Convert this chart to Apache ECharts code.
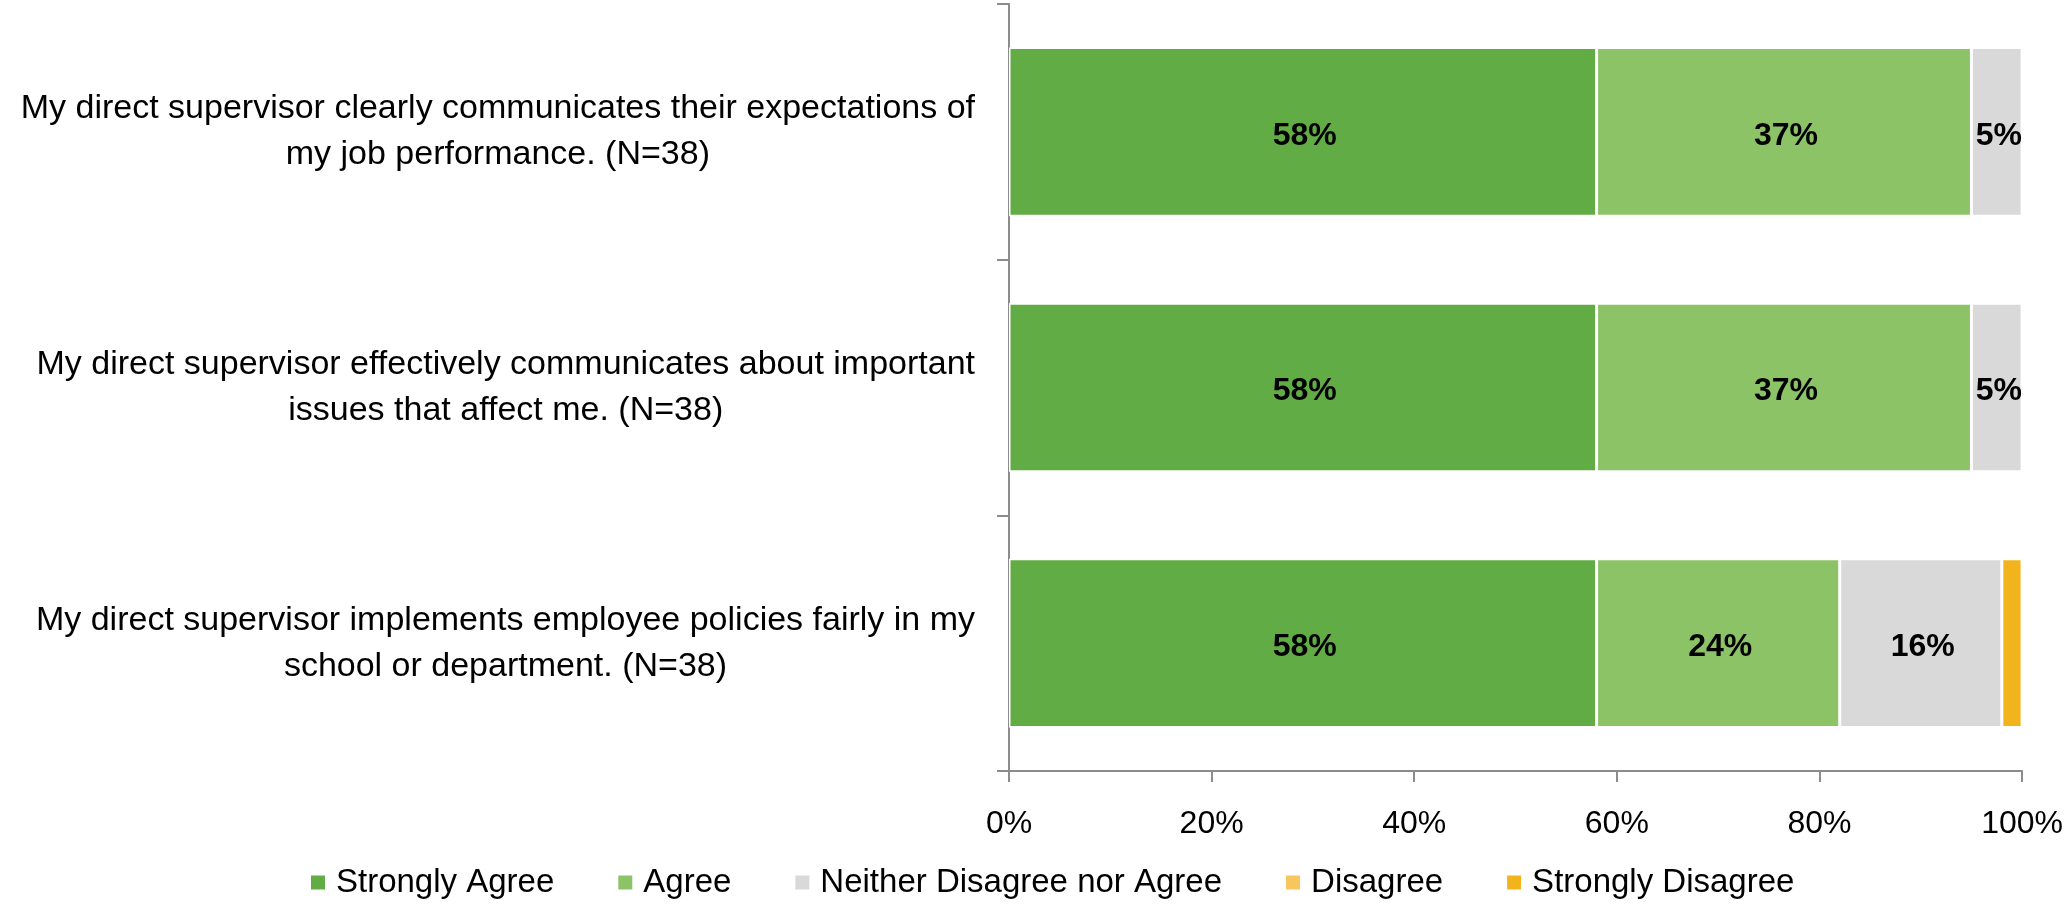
<!DOCTYPE html>
<html><head><meta charset="utf-8">
<script src="https://cdn.jsdelivr.net/npm/echarts@6/dist/echarts.min.js"></script>
<style>html,body{margin:0;padding:0;background:#fff}#c{width:2066px;height:906px}</style>
</head><body><div id="c"></div>
<script>
const categories = [
  "My direct supervisor clearly communicates their expectations of\nmy job performance. (N=38)",
  "My direct supervisor effectively communicates about important\nissues that affect me. (N=38)",
  "My direct supervisor implements employee policies fairly in my\nschool or department. (N=38)"
];
const seriesNames = ["Strongly Agree","Agree","Neither Disagree nor Agree","Disagree","Strongly Disagree"];
const stronglyAgree = [58,58,58];
const agree = [37,37,24];
const neither = [5,5,16];
const disagree = [0,0,0];
const stronglyDisagree = [0,0,2];
const xTicks = [0,20,40,60,80,100];
const colors = ["#62AC45","#8CC367","#D9D9D9","#F7C65F","#F2B41C"];
const FONT = "Liberation Sans";
const values = [stronglyAgree, agree, neither, disagree, stronglyDisagree];
const showLabel = [true,true,true,false,false];

const chart = echarts.init(document.getElementById('c'));
chart.setOption({
  animation:false,
  textStyle:{fontFamily:FONT},
  grid:{left:1009,right:42,top:4,bottom:135,containLabel:false},
  legend:{
    bottom:2, left:304, itemWidth:16, itemHeight:16, itemGap:62,
    icon:'rect',
    textStyle:{fontFamily:FONT,fontSize:33,color:'#000',padding:[0,0,0,5]},
    data:seriesNames
  },
  xAxis:{
    type:'value', min:xTicks[0], max:xTicks[xTicks.length-1], interval:xTicks[1]-xTicks[0],
    axisLine:{show:true,lineStyle:{color:'#8C8C8C',width:2}},
    axisTick:{show:true,length:11,lineStyle:{color:'#8C8C8C',width:2}},
    splitLine:{show:false},
    axisLabel:{fontFamily:FONT,fontSize:32,color:'#000',margin:37,formatter:v=>v+'%'}
  },
  yAxis:{
    type:'category', inverse:true, data:categories,
    axisLine:{show:true,lineStyle:{color:'#8C8C8C',width:2}},
    axisTick:{show:true,length:12,lineStyle:{color:'#8C8C8C',width:2}},
    axisLabel:{
      fontFamily:FONT,fontSize:34,color:'#000',margin:34,align:'right',lineHeight:46,
      formatter:v=>v.split('\n').map(s=>'{c|'+s+'}').join('\n'),
      rich:{c:{fontFamily:FONT,fontSize:34,color:'#000',align:'center',lineHeight:46}}
    }
  },
  series: seriesNames.map((n,i)=>({
    name:n, type:'bar', stack:'all', data:values[i],
    barCategoryGap:'34%',
    itemStyle:{color:colors[i],borderColor:'#fff',borderWidth:1.5},
    label:{show:showLabel[i],position:'inside',offset:[2,4],fontFamily:FONT,fontSize:32,fontWeight:'bold',color:'#000',
      formatter:p=>p.value>0?p.value+'%':''}
  }))
});
</script></body></html>
